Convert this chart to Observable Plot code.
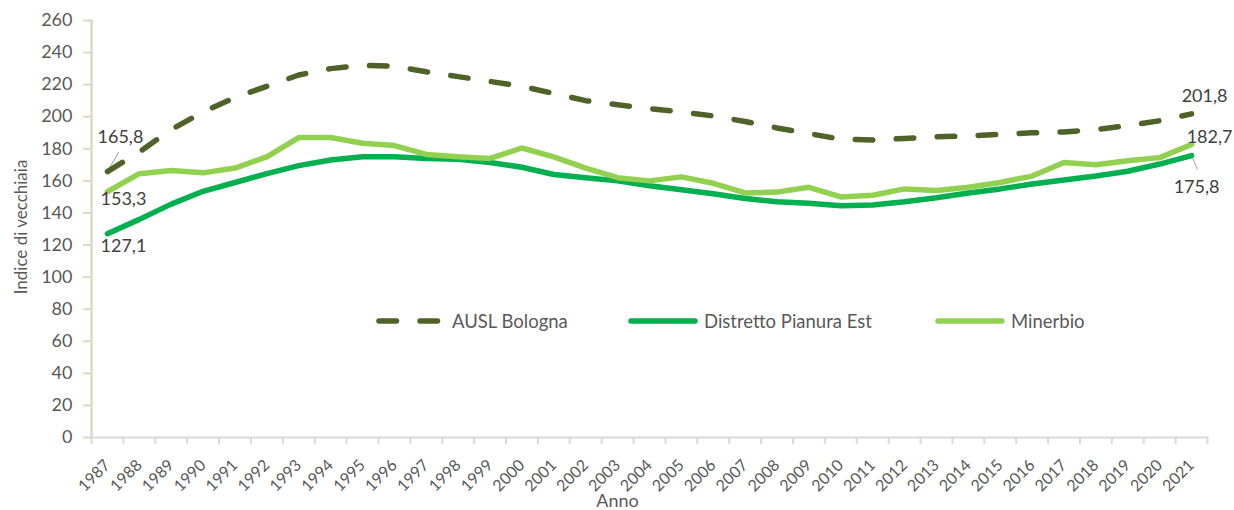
<!DOCTYPE html>
<html>
<head>
<meta charset="utf-8">
<script src="https://cdn.jsdelivr.net/npm/d3@7"></script>
<script src="https://cdn.jsdelivr.net/npm/@observablehq/plot@0.6"></script>
<style>
  html, body { margin: 0; padding: 0; background: #ffffff; }
  #chart { position: relative; width: 1234px; height: 510px; font-family: Lato, "Open Sans", sans-serif; overflow: hidden; }
  .leg { position: absolute; top: 309px; height: 24px; display: flex; align-items: center; font-size: 18.5px; color: #595959; white-space: nowrap; }
  .leg svg { display: block; margin-right: 6px; }
</style>
</head>
<body>
<div id="chart"></div>
<script>
// ---- data ----
const years = [1987,1988,1989,1990,1991,1992,1993,1994,1995,1996,1997,1998,1999,2000,2001,2002,2003,2004,2005,2006,2007,2008,2009,2010,2011,2012,2013,2014,2015,2016,2017,2018,2019,2020,2021];
const auslBologna = [165.8,178,192,203,212,219,226,230,232,231.5,228,225,222,219,214.5,210,207.5,205,203,200.5,197,193,189.5,186,185.5,186.5,187.5,188,189,190,190.5,192,194.5,197.5,201.8];
const distrettoPianuraEst = [127.1,136,145.5,153.5,159,164.5,169.5,173,175,175,174,173.5,171.5,168.5,164,162,160,157,154.5,152,149,147,146,144.5,145,147,149.5,152.5,155,158,160.5,163,166,170.5,175.8];
const minerbio = [153.3,164.5,166.5,165,168,175,187,187,183.5,182,176.5,175,174,180.5,175,168,162,160,162.5,158.5,152.5,153,156,150,151,155,154,156,159,163,171.5,170,172.5,174.5,182.7];
const seriesNames = ["AUSL Bologna", "Distretto Pianura Est", "Minerbio"];
const seriesColors = ["#4f6228", "#00b050", "#92d050"];
const yTicks = [0,20,40,60,80,100,120,140,160,180,200,220,240,260];
const yTitle = "Indice di vecchiaia";
const xTitle = "Anno";

// ---- build table ----
const seriesValues = [auslBologna, distrettoPianuraEst, minerbio];
const rows = seriesNames.map((name, i) => years.map((yr, j) => ({series: name, year: yr, value: seriesValues[i][j]})));
const boundaries = years.map(y => y - 0.5).concat([years[years.length - 1] + 0.5]);
const fmt = v => v.toFixed(1).replace(".", ",");
const first = s => [rows[s][0]];
const last = s => [rows[s][rows[s].length - 1]];

const gray = "#595959";
const labelColor = "#404040";
const beige = "#ddd9c3";
const axisGray = "#d9d9d9";
const dash = "17.5,23.5";

const leader = { draw(ctx, l) { ctx.moveTo(0, 0); ctx.lineTo(0, -l); } };

function label(data, dx, dy) {
  return Plot.text(data, {x: "year", y: "value", text: d => fmt(d.value), dx, dy, fontSize: 18, fill: labelColor, textAnchor: "middle", lineAnchor: "middle"});
}

const chart = Plot.plot({
  width: 1234,
  height: 510,
  marginLeft: 91,
  marginRight: 27,
  marginTop: 20,
  marginBottom: 73,
  style: {fontFamily: "Lato, 'Open Sans', sans-serif", overflow: "visible", background: "#ffffff"},
  x: {domain: [boundaries[0], boundaries[boundaries.length - 1]]},
  y: {domain: [0, 260]},
  marks: [
    Plot.frame({anchor: "bottom", stroke: axisGray, strokeWidth: 2}),
    Plot.axisX({ticks: boundaries, tickFormat: () => "", tickSize: 7, stroke: axisGray, strokeWidth: 2, label: null}),
    Plot.axisX({ticks: years, tickFormat: d => String(d), tickSize: 0, tickPadding: 25, tickRotate: -45, fontSize: 16, fill: gray, label: null}),
    Plot.frame({anchor: "left", stroke: beige, strokeWidth: 2.5}),
    Plot.axisY({ticks: yTicks, tickSize: 8, tickPadding: 11, stroke: beige, strokeWidth: 2, fill: gray, fontSize: 18, label: null}),
    Plot.text([yTitle], {text: d => d, frameAnchor: "left", textAnchor: "middle", lineAnchor: "middle", rotate: -90, dx: -70, dy: -2, fontSize: 17, fill: gray}),
    Plot.text([xTitle], {text: d => d, frameAnchor: "bottom", textAnchor: "middle", lineAnchor: "middle", dx: -32, dy: 64, fontSize: 18, fill: gray}),
    Plot.vector(first(0), {x: "year", y: "value", length: 22, rotate: 30, anchor: "start", shape: leader, stroke: "#a6a6a6", strokeWidth: 1}),
    Plot.vector(last(1), {x: "year", y: "value", length: 15, rotate: 157, anchor: "start", shape: leader, stroke: "#a6a6a6", strokeWidth: 1}),
    Plot.line(rows[1], {x: "year", y: "value", stroke: seriesColors[1], strokeWidth: 5.5, strokeLinejoin: "round", strokeLinecap: "round"}),
    Plot.line(rows[2], {x: "year", y: "value", stroke: seriesColors[2], strokeWidth: 5.5, strokeLinejoin: "round", strokeLinecap: "round"}),
    Plot.line(rows[0], {x: "year", y: "value", stroke: seriesColors[0], strokeWidth: 5.5, strokeDasharray: dash, strokeLinejoin: "round", strokeLinecap: "round"}),
    label(first(0), 13, -34),
    label(first(2), 16, 8),
    label(first(1), 16, 13),
    label(last(0), 13, -18),
    label(last(2), 18, -7),
    label(last(1), 5, 32)
  ]
});

const container = document.getElementById("chart");
container.appendChild(chart);

// ---- legend ----
const legendLeft = [376, 628, 935];
seriesNames.forEach((name, i) => {
  const item = document.createElement("div");
  item.className = "leg";
  item.style.left = legendLeft[i] + "px";
  const ns = "http://www.w3.org/2000/svg";
  const s = document.createElementNS(ns, "svg");
  s.setAttribute("width", 70);
  s.setAttribute("height", 10);
  const ln = document.createElementNS(ns, "line");
  ln.setAttribute("x1", 3); ln.setAttribute("x2", 67);
  ln.setAttribute("y1", 5); ln.setAttribute("y2", 5);
  ln.setAttribute("stroke", seriesColors[i]);
  ln.setAttribute("stroke-width", 5.5);
  ln.setAttribute("stroke-linecap", "round");
  if (i === 0) ln.setAttribute("stroke-dasharray", dash);
  s.appendChild(ln);
  item.appendChild(s);
  const t = document.createElement("span");
  t.textContent = name;
  item.appendChild(t);
  container.appendChild(item);
});
</script>
</body>
</html>
